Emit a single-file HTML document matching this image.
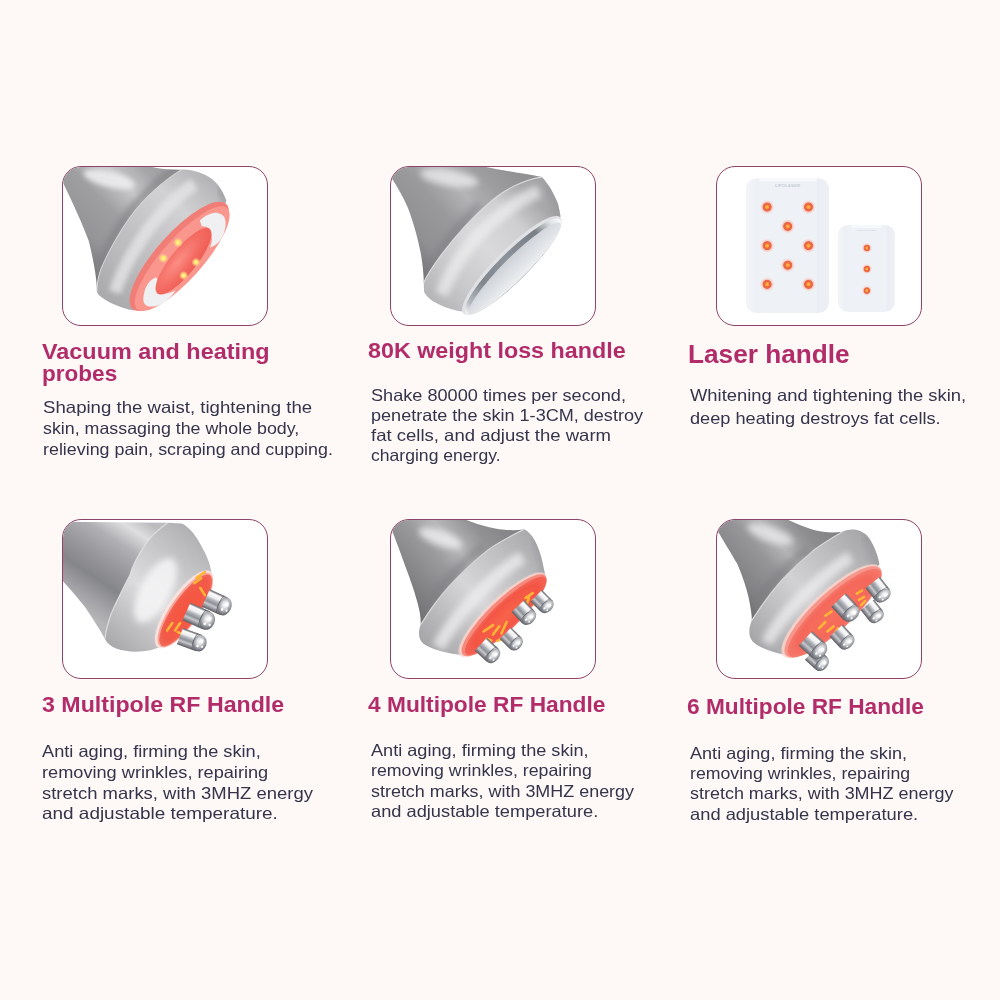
<!DOCTYPE html>
<html lang="en"><head><meta charset="utf-8"><title>Handles</title>
<style>
html,body{margin:0;padding:0}
body{width:1000px;height:1000px;background:#fef8f7;position:relative;overflow:hidden;font-family:"Liberation Sans",sans-serif}
.box{position:absolute;box-sizing:border-box;border:1px solid #8d4468;border-radius:19px;background:#fff;overflow:hidden}
.box svg{position:absolute;display:block}
.ln{position:absolute;display:block;white-space:nowrap;line-height:24px;transform-origin:0 50%}
.h{font-weight:700;color:#b12c69}
.b{font-weight:400;color:#34354b}
</style></head><body>

<div class="box" style="left:62px;top:166px;width:206px;height:160px">
<svg viewBox="0 0 1000 781" width="210" height="164" style="left:-3px;top:-3px"><defs>
<linearGradient id="a1cone" gradientUnits="userSpaceOnUse" x1="60" y1="420" x2="520" y2="-40">
<stop offset="0" stop-color="#7c7c7f"/><stop offset=".18" stop-color="#959598"/><stop offset=".42" stop-color="#9f9fa2"/><stop offset=".62" stop-color="#c8c8ca"/><stop offset=".8" stop-color="#a6a6a9"/><stop offset="1" stop-color="#98989b"/>
</linearGradient>
<linearGradient id="a1col" gradientUnits="userSpaceOnUse" x1="200" y1="640" x2="740" y2="60">
<stop offset="0" stop-color="#a9a9ac"/><stop offset=".25" stop-color="#b9b9bc"/><stop offset=".5" stop-color="#c6c6c8"/><stop offset=".72" stop-color="#d2d2d4"/><stop offset="1" stop-color="#b0b0b3"/>
</linearGradient>
<radialGradient id="a1hole" cx=".45" cy=".35" r=".7">
<stop offset="0" stop-color="#fb8d84"/><stop offset=".6" stop-color="#f36a61"/><stop offset="1" stop-color="#ee5b52"/>
</radialGradient>
<radialGradient id="a1led"><stop offset="0" stop-color="#fff9b8"/><stop offset=".4" stop-color="#ffe466"/><stop offset=".6" stop-color="#ffd27a" stop-opacity=".8"/><stop offset="1" stop-color="#ffc0a0" stop-opacity="0"/></radialGradient>
<filter id="a1b" x="-20%" y="-20%" width="140%" height="140%"><feGaussianBlur stdDeviation="3"/></filter>
<filter id="a1b2" x="-20%" y="-20%" width="140%" height="140%"><feGaussianBlur stdDeviation="12"/></filter>
<clipPath id="a1cc"><path d="M0,0 L380,0 C430,14 480,24 530,26 L578,27 C500,75 400,160 336,250 C270,340 215,450 195,500 C180,540 176,580 176,609 C176,560 165,480 137,367 C110,290 50,160 0,60 Z"/></clipPath><clipPath id="a1cl"><path d="M578,27 C620,22 690,45 722,70 C760,100 780,140 792,175 L700,420 L352,698 C300,690 230,660 200,636 C185,625 178,615 176,609 C176,580 180,540 195,500 C215,450 270,340 336,250 C400,160 500,75 578,27 Z"/></clipPath>
</defs>
<path d="M0,0 L380,0 C430,14 480,24 530,26 L578,27 C500,75 400,160 336,250 C270,340 215,450 195,500 C180,540 176,580 176,609 C176,560 165,480 137,367 C110,290 50,160 0,60 Z" fill="url(#a1cone)"/>
<path d="M578,27 C620,22 690,45 722,70 C760,100 780,140 792,175 L700,420 L352,698 C300,690 230,660 200,636 C185,625 178,615 176,609 C176,580 180,540 195,500 C215,450 270,340 336,250 C400,160 500,75 578,27 Z" fill="url(#a1col)"/>
<g clip-path="url(#a1cc)">
<path d="M560,20 C490,65 390,150 326,240 C260,330 205,440 185,490" fill="none" stroke="#7f7f83" stroke-width="46" opacity=".55" filter="url(#a1b2)"/>
<ellipse cx="235" cy="72" rx="125" ry="38" fill="#ececee" opacity=".9" filter="url(#a1b2)" transform="rotate(14 235 72)"/>
</g>
<g clip-path="url(#a1cl)">
<path d="M640,95 C560,150 470,240 400,340 C340,430 290,520 262,610" fill="none" stroke="#e4e4e6" stroke-width="60" opacity=".8" filter="url(#a1b2)"/>
<path d="M760,110 C790,150 800,180 800,200" fill="none" stroke="#9a9a9d" stroke-width="50" opacity=".6" filter="url(#a1b2)"/>
</g>
<path d="M578,27 C500,75 400,160 336,250 C270,340 215,450 195,500 C180,540 176,580 176,609" fill="none" stroke="#d8d8da" stroke-width="5" opacity=".85"/>
<g transform="translate(568,440) rotate(-48.4)"><ellipse rx="335" ry="108" fill="#f17e76"/></g>
<g transform="translate(582,451) rotate(-48.4)"><ellipse rx="322" ry="97" fill="#f9978e"/></g>
<path d="M666,269 C680,255 695,245 706,242 C725,232 745,230 753,234 C772,238 782,248 785,258 C790,275 790,295 785,312 C780,335 772,352 761,367 C748,383 732,393 714,398 C722,380 726,360 722,343 C720,328 718,318 714,308 C700,300 690,297 675,297 Z" fill="#f0f0f3"/>
<path d="M457,539 C445,545 435,552 425,562 C412,578 405,593 402,609 C397,628 396,642 398,656 C402,670 412,677 425,679 C440,680 458,676 472,671 C490,664 505,652 519,640 C532,628 542,615 550,601 C535,610 520,615 503,617 C490,620 480,620 472,617 C465,610 461,598 461,585 C461,573 464,563 468,554 Z" fill="#f0f0f3"/>
<g transform="translate(588,463) rotate(-51)">
<ellipse cx="0" cy="0" rx="198" ry="61" fill="url(#a1hole)"/>
</g>
<g>
<circle cx="562" cy="374" r="24" fill="url(#a1led)"/>
<circle cx="492" cy="449" r="24" fill="url(#a1led)"/>
<circle cx="648" cy="468" r="22" fill="url(#a1led)"/>
<circle cx="589" cy="531" r="22" fill="url(#a1led)"/>
</g>
</svg>
</div>
<div class="card"><span class="ln h" style="left:42.4px;top:340.25px;font-size:21.5px;transform:scaleX(1.0886)">Vacuum and heating</span><span class="ln h" style="left:42.4px;top:361.55px;font-size:21.5px;transform:scaleX(1.0491)">probes</span><span class="ln b" style="left:42.5px;top:395.28px;font-size:16.5px;transform:scaleX(1.1283)">Shaping the waist, tightening the</span><span class="ln b" style="left:42.5px;top:415.88px;font-size:16.5px;transform:scaleX(1.0803)">skin, massaging the whole body,</span><span class="ln b" style="left:42.5px;top:436.68px;font-size:16.5px;transform:scaleX(1.0823)">relieving pain, scraping and cupping.</span></div>
<div class="box" style="left:390px;top:166px;width:206px;height:160px">
<svg viewBox="0 0 1000 781" width="210" height="164" style="left:-3px;top:-3px"><defs>
<linearGradient id="a2cone" gradientUnits="userSpaceOnUse" x1="70" y1="400" x2="560" y2="-30">
<stop offset="0" stop-color="#7a7a7e"/><stop offset=".15" stop-color="#909093"/><stop offset=".4" stop-color="#9a9a9d"/><stop offset=".6" stop-color="#b4b4b7"/><stop offset=".78" stop-color="#9e9ea1"/><stop offset="1" stop-color="#919194"/>
</linearGradient>
<linearGradient id="a2col" gradientUnits="userSpaceOnUse" x1="200" y1="650" x2="790" y2="90">
<stop offset="0" stop-color="#b4b4b7"/><stop offset=".2" stop-color="#c9c9cc"/><stop offset=".45" stop-color="#d9d9db"/><stop offset=".68" stop-color="#cfcfd1"/><stop offset=".85" stop-color="#a9a9ac"/><stop offset="1" stop-color="#a0a0a3"/>
</linearGradient>
<linearGradient id="a2disc" gradientUnits="userSpaceOnUse" x1="0" y1="-60" x2="0" y2="60">
<stop offset="0" stop-color="#cdd0d5"/><stop offset=".45" stop-color="#dcdfe3"/><stop offset="1" stop-color="#f0f1f3"/>
</linearGradient>
<linearGradient id="a2ring" gradientUnits="userSpaceOnUse" x1="-317" y1="0" x2="317" y2="0">
<stop offset="0" stop-color="#f4f5f6"/><stop offset=".08" stop-color="#b3b8bd"/><stop offset=".25" stop-color="#80868d"/><stop offset=".5" stop-color="#8d939a"/><stop offset=".8" stop-color="#787e85"/><stop offset=".93" stop-color="#dfe2e5"/><stop offset="1" stop-color="#fafafa"/>
</linearGradient>
<filter id="a2b2" x="-30%" y="-30%" width="160%" height="160%"><feGaussianBlur stdDeviation="14"/></filter>
<clipPath id="a2cc"><path d="M0,0 L400,0 C470,18 600,38 733,62 C640,75 540,130 476,190 C400,255 320,345 255,430 C215,485 185,530 170,565 C171,540 166,480 155,420 C140,350 125,290 95,210 C70,150 35,95 0,40 Z"/></clipPath>
<clipPath id="a2cl"><path d="M733,62 C762,92 790,140 810,190 L822,250 L609,498 L372,704 L333,700 C290,690 230,668 200,643 C185,630 176,620 172,610 L170,565 C185,530 215,485 255,430 C320,345 400,255 476,190 C540,130 640,75 733,62 Z"/></clipPath>
</defs>
<path d="M0,0 L400,0 C470,18 600,38 733,62 C640,75 540,130 476,190 C400,255 320,345 255,430 C215,485 185,530 170,565 C171,540 166,480 155,420 C140,350 125,290 95,210 C70,150 35,95 0,40 Z" fill="url(#a2cone)"/>
<path d="M733,62 C762,92 790,140 810,190 L822,250 L609,498 L372,704 L333,700 C290,690 230,668 200,643 C185,630 176,620 172,610 L170,565 C185,530 215,485 255,430 C320,345 400,255 476,190 C540,130 640,75 733,62 Z" fill="url(#a2col)"/>
<g clip-path="url(#a2cc)">
<path d="M440,190 C350,280 260,390 200,500" fill="none" stroke="#7d7d81" stroke-width="46" opacity=".5" filter="url(#a2b2)"/>
<ellipse cx="292" cy="66" rx="140" ry="38" fill="#e6e6e8" opacity=".85" filter="url(#a2b2)" transform="rotate(10 292 66)"/>
</g>
<g clip-path="url(#a2cl)">
<path d="M720,130 C620,170 520,245 430,340 C350,430 290,530 255,620" fill="none" stroke="#efeff0" stroke-width="62" opacity=".7" filter="url(#a2b2)"/>
<path d="M770,90 C800,150 815,210 820,250" fill="none" stroke="#98989b" stroke-width="60" opacity=".6" filter="url(#a2b2)"/>
</g>
<path d="M733,62 C640,75 540,130 476,190 C400,255 320,345 255,430 C215,485 185,530 170,565" fill="none" stroke="#dcdcde" stroke-width="6" opacity=".85"/>
<g transform="translate(590,483) rotate(-44.8)"><ellipse rx="325" ry="77" fill="#dfe1e4"/></g>
<g transform="translate(595.5,488.5) rotate(-44.8)"><ellipse rx="317" ry="68.5" fill="url(#a2ring)"/></g>
<g transform="translate(604.5,497.5) rotate(-44.8)"><ellipse rx="304" ry="54.5" fill="url(#a2disc)"/></g>
</svg>
</div>
<div class="card"><span class="ln h" style="left:367.6px;top:339.35px;font-size:21.5px;transform:scaleX(1.0835)">80K weight loss handle</span><span class="ln b" style="left:370.8px;top:383.28px;font-size:16.5px;transform:scaleX(1.0988)">Shake 80000 times per second,</span><span class="ln b" style="left:370.8px;top:403.48px;font-size:16.5px;transform:scaleX(1.0944)">penetrate the skin 1-3CM, destroy</span><span class="ln b" style="left:370.8px;top:422.88px;font-size:16.5px;transform:scaleX(1.1231)">fat cells, and adjust the warm</span><span class="ln b" style="left:370.8px;top:442.88px;font-size:16.5px;transform:scaleX(1.0650)">charging energy.</span></div>
<div class="box" style="left:716px;top:166px;width:206px;height:160px">
<svg viewBox="0 0 1000 781" width="210" height="164" style="left:-3px;top:-3px"><defs>
<linearGradient id="a3p" x1="0" y1="0" x2="1" y2="0">
<stop offset="0" stop-color="#f3f5f8"/><stop offset=".15" stop-color="#eceff4"/><stop offset=".17" stop-color="#eef1f6"/><stop offset=".84" stop-color="#eef1f6"/><stop offset=".86" stop-color="#eaedf3"/><stop offset="1" stop-color="#eef0f5"/>
</linearGradient>
<radialGradient id="a3led"><stop offset="0" stop-color="#ffb648"/><stop offset=".22" stop-color="#ffa23a"/><stop offset=".32" stop-color="#e9663c"/><stop offset=".55" stop-color="#ea6a4c"/><stop offset=".64" stop-color="#f7b8ae" stop-opacity=".75"/><stop offset="1" stop-color="#fbdcd8" stop-opacity="0"/></radialGradient>
<filter id="a3b" x="-10%" y="-10%" width="120%" height="120%"><feGaussianBlur stdDeviation="2.5"/></filter>
</defs>
<g filter="url(#a3b)">
<rect x="152" y="68" width="396" height="642" rx="50" ry="50" fill="url(#a3p)"/>
<rect x="590" y="290" width="272" height="415" rx="48" ry="48" fill="url(#a3p)"/>
<rect x="215" y="68" width="275" height="16" fill="#f7f8fb"/>
<rect x="655" y="290" width="146" height="14" fill="#f7f8fb"/>
</g>
<text x="350" y="108" font-family="'Liberation Sans',sans-serif" font-size="17" font-weight="700" text-anchor="middle" fill="#c9ced8" textLength="120" lengthAdjust="spacingAndGlyphs">LIPOLASER</text>
<text x="728" y="321" font-family="'Liberation Sans',sans-serif" font-size="11" font-weight="700" text-anchor="middle" fill="#d3d7e0" textLength="90" lengthAdjust="spacingAndGlyphs">LIPOLASER</text>
<g>
<circle cx="253" cy="205" r="36" fill="url(#a3led)"/><circle cx="450" cy="205" r="36" fill="url(#a3led)"/>
<circle cx="351" cy="297" r="36" fill="url(#a3led)"/>
<circle cx="253" cy="389" r="36" fill="url(#a3led)"/><circle cx="450" cy="389" r="36" fill="url(#a3led)"/>
<circle cx="351" cy="482" r="36" fill="url(#a3led)"/>
<circle cx="253" cy="573" r="36" fill="url(#a3led)"/><circle cx="450" cy="573" r="36" fill="url(#a3led)"/>
<circle cx="728" cy="400" r="26" fill="url(#a3led)"/><circle cx="728" cy="500" r="26" fill="url(#a3led)"/><circle cx="728" cy="603" r="26" fill="url(#a3led)"/>
</g>
</svg>
</div>
<div class="card"><span class="ln h" style="left:687.6px;top:342.16px;font-size:25.5px;transform:scaleX(1.0273)">Laser handle</span><span class="ln b" style="left:689.8px;top:382.68px;font-size:16.5px;transform:scaleX(1.1152)">Whitening and tightening the skin,</span><span class="ln b" style="left:689.8px;top:406.48px;font-size:16.5px;transform:scaleX(1.1017)">deep heating destroys fat cells.</span></div>
<div class="box" style="left:62px;top:519px;width:206px;height:160px">
<svg viewBox="0 0 1000 781" width="210" height="164" style="left:-3px;top:-3px"><defs>
<linearGradient id="a4body" gradientUnits="userSpaceOnUse" x1="380" y1="0" x2="90" y2="440">
<stop offset="0" stop-color="#bcbcc0"/><stop offset=".13" stop-color="#dedee0"/><stop offset=".3" stop-color="#b0b0b4"/><stop offset=".5" stop-color="#98989c"/><stop offset=".68" stop-color="#85868a"/><stop offset=".86" stop-color="#a3a3a7"/><stop offset="1" stop-color="#b6b6b9"/>
</linearGradient>
<linearGradient id="a4cap" gradientUnits="userSpaceOnUse" x1="240" y1="620" x2="690" y2="90">
<stop offset="0" stop-color="#a8a8ab"/><stop offset=".2" stop-color="#bebec1"/><stop offset=".45" stop-color="#dcdcde"/><stop offset=".7" stop-color="#c9c9cb"/><stop offset="1" stop-color="#aeaeb1"/>
</linearGradient>
<radialGradient id="a4red" cx=".5" cy=".5" r=".6">
<stop offset="0" stop-color="#f6553f"/><stop offset=".7" stop-color="#f25a48"/><stop offset="1" stop-color="#f4796a"/>
</radialGradient>
<linearGradient id="pr_body" x1="0" y1="0" x2="0" y2="1">
<stop offset="0" stop-color="#6a6a70"/><stop offset=".06" stop-color="#8a8a90"/><stop offset=".13" stop-color="#fbfbfc"/><stop offset=".32" stop-color="#efeff1"/><stop offset=".44" stop-color="#b4b7bc"/><stop offset=".6" stop-color="#8d9097"/><stop offset=".74" stop-color="#c6c8cc"/><stop offset=".88" stop-color="#8a8a90"/><stop offset="1" stop-color="#5a5a60"/>
</linearGradient>
<radialGradient id="pr_tip" cx=".48" cy=".4" r=".62">
<stop offset="0" stop-color="#ffffff"/><stop offset=".3" stop-color="#e2e3e6"/><stop offset=".62" stop-color="#a4a7ac"/><stop offset=".85" stop-color="#74777d"/><stop offset="1" stop-color="#5a5a60"/>
</radialGradient>
<g id="probe">
<path d="M0,-47 L118,-47 A50,48 0 0 1 118,47 L0,47 Z" fill="url(#pr_body)"/>
<ellipse cx="126" cy="0" rx="42" ry="45" fill="url(#pr_tip)"/>
<path d="M96,-47 C84,-20 84,20 96,47" stroke="#55555b" stroke-width="5" fill="none" opacity=".7"/>
<circle cx="134" cy="-14" r="11" fill="#fff"/><circle cx="120" cy="18" r="7" fill="#fff" opacity=".95"/><circle cx="148" cy="14" r="6" fill="#fff" opacity=".95"/>
</g>
<filter id="a4b2" x="-30%" y="-30%" width="160%" height="160%"><feGaussianBlur stdDeviation="14"/></filter>
<filter id="a4b1" x="-30%" y="-30%" width="160%" height="160%"><feGaussianBlur stdDeviation="3"/></filter>
</defs>
<path d="M0,22 L514,27 C476,52 430,95 405,133 C370,185 345,235 333,276 C300,340 265,410 243,462 C228,505 218,545 214,581 C195,545 160,490 119,429 C85,385 45,340 0,290 Z" fill="url(#a4body)"/>
<path d="M514,27 L581,31 C610,45 640,80 657,110 C690,165 712,215 716,240 L722,268 L600,440 L485,612 C440,645 330,650 270,628 C240,615 222,598 214,581 C218,545 228,505 243,462 C265,410 300,340 333,276 C345,235 370,185 405,133 C430,95 476,52 514,27 Z" fill="url(#a4cap)"/>
<path d="M514,27 C476,52 430,95 405,133 C370,185 345,235 333,276 C300,340 265,410 243,462 C228,505 218,545 214,581" fill="none" stroke="#dedee0" stroke-width="6" opacity=".9"/>
<ellipse cx="455" cy="350" rx="170" ry="72" fill="#f6f6f7" opacity=".85" filter="url(#a4b2)" transform="rotate(-62 455 350)"/>
<g transform="translate(596,443) rotate(-55.3)"><ellipse cx="0" cy="-6" rx="220" ry="76" fill="#fbe3df" opacity=".95" filter="url(#a4b1)"/><ellipse rx="210" ry="68" fill="#f7a79c"/><ellipse cx="0" cy="3" rx="203" ry="61" fill="url(#a4red)"/></g>
<g filter="url(#a4b1)" stroke="#ffb534" stroke-width="12" stroke-linecap="round" fill="none">
<path d="M650,290 L690,262"/><path d="M640,315 L672,292"/><path d="M668,338 L690,372"/>
<path d="M510,540 L535,505"/><path d="M548,540 L572,505"/><path d="M560,548 L590,560"/>
</g>
<use href="#probe" transform="translate(695,386) rotate(24.5) scale(.77,.98)"/>
<use href="#probe" transform="translate(602,450) rotate(24) scale(.86,.98)"/>
<use href="#probe" transform="translate(571,567) rotate(20) scale(.79,.88)"/>
</svg>
</div>
<div class="card"><span class="ln h" style="left:42.2px;top:692.75px;font-size:21.5px;transform:scaleX(1.0785)">3 Multipole RF Handle</span><span class="ln b" style="left:42.2px;top:739.28px;font-size:16.5px;transform:scaleX(1.1045)">Anti aging, firming the skin,</span><span class="ln b" style="left:42.2px;top:760.08px;font-size:16.5px;transform:scaleX(1.1012)">removing wrinkles, repairing</span><span class="ln b" style="left:42.2px;top:780.88px;font-size:16.5px;transform:scaleX(1.1195)">stretch marks, with 3MHZ energy</span><span class="ln b" style="left:42.2px;top:801.08px;font-size:16.5px;transform:scaleX(1.1476)">and adjustable temperature.</span></div>
<div class="box" style="left:390px;top:519px;width:206px;height:160px">
<svg viewBox="0 0 1000 781" width="210" height="164" style="left:-3px;top:-3px"><defs>
<linearGradient id="a5neck" gradientUnits="userSpaceOnUse" x1="60" y1="400" x2="540" y2="-20">
<stop offset="0" stop-color="#6e6e71"/><stop offset=".18" stop-color="#838386"/><stop offset=".42" stop-color="#9a9a9d"/><stop offset=".58" stop-color="#b8b8ba"/><stop offset=".78" stop-color="#919194"/><stop offset="1" stop-color="#828285"/>
</linearGradient>
<linearGradient id="a5col" gradientUnits="userSpaceOnUse" x1="170" y1="620" x2="740" y2="100">
<stop offset="0" stop-color="#a4a4a7"/><stop offset=".22" stop-color="#bcbcbf"/><stop offset=".45" stop-color="#d6d6d8"/><stop offset=".7" stop-color="#c2c2c5"/><stop offset="1" stop-color="#a6a6a9"/>
</linearGradient>
<filter id="a5b2" x="-30%" y="-30%" width="160%" height="160%"><feGaussianBlur stdDeviation="14"/></filter>
<filter id="a5b1" x="-30%" y="-30%" width="160%" height="160%"><feGaussianBlur stdDeviation="3"/></filter>
<clipPath id="a5cc"><path d="M0,0 L340,0 C440,45 560,75 650,58 C575,95 520,125 476,157 C400,215 340,275 290,330 C240,385 195,450 155,514 C160,470 142,400 100,282 C70,200 35,100 5,30 Z"/></clipPath><clipPath id="a5cl"><path d="M650,58 C700,85 730,170 745,260 L752,302 L555,472 L360,658 C290,652 210,632 170,605 C145,585 142,550 155,514 C195,450 240,385 290,330 C340,275 400,215 476,157 C520,125 575,95 650,58 Z"/></clipPath>
<radialGradient id="a5red" cx=".5" cy=".5" r=".55"><stop offset="0" stop-color="#f8644a"/><stop offset=".7" stop-color="#f35545"/><stop offset="1" stop-color="#f4695b"/></radialGradient>
</defs>
<path d="M0,0 L340,0 C440,45 560,75 650,58 C575,95 520,125 476,157 C400,215 340,275 290,330 C240,385 195,450 155,514 C160,470 142,400 100,282 C70,200 35,100 5,30 Z" fill="url(#a5neck)"/>
<path d="M650,58 C700,85 730,170 745,260 L752,302 L555,472 L360,658 C290,652 210,632 170,605 C145,585 142,550 155,514 C195,450 240,385 290,330 C340,275 400,215 476,157 C520,125 575,95 650,58 Z" fill="url(#a5col)"/>
<path d="M650,58 C575,95 520,125 476,157 C400,215 340,275 290,330 C240,385 195,450 155,514" fill="none" stroke="#dadadc" stroke-width="6" opacity=".9"/>
<g clip-path="url(#a5cc)">
<path d="M455,140 C370,205 280,300 200,400" fill="none" stroke="#7d7d81" stroke-width="46" opacity=".5" filter="url(#a5b2)"/>
<ellipse cx="250" cy="100" rx="110" ry="36" fill="#ececed" opacity=".85" filter="url(#a5b2)" transform="rotate(20 250 100)"/>
</g>
<g clip-path="url(#a5cl)">
<path d="M640,190 C560,240 470,320 390,410 C320,490 270,560 240,620" fill="none" stroke="#efeff0" stroke-width="62" opacity=".75" filter="url(#a5b2)"/>
<path d="M700,90 C735,160 748,230 752,300" fill="none" stroke="#98989b" stroke-width="50" opacity=".55" filter="url(#a5b2)"/>
</g>
<g transform="translate(553,468) rotate(-43.8)"><ellipse cx="-4" cy="-8" rx="280" ry="76" fill="#fbd3cc" opacity=".9" filter="url(#a5b1)"/><ellipse rx="272" ry="72" fill="#f6897c"/><ellipse cx="4" cy="7" rx="262" ry="62" fill="url(#a5red)"/></g>
<g filter="url(#a5b1)" stroke="#ffb534" stroke-width="12" stroke-linecap="round" fill="none">
<path d="M655,385 L690,362"/><path d="M660,418 L672,380"/><path d="M690,395 L700,420"/>
<path d="M455,545 L500,515"/><path d="M500,560 L530,520"/><path d="M540,555 L565,500"/><path d="M470,580 L492,588"/><path d="M520,590 L545,580"/>
</g>
<use href="#probe" transform="translate(706.2,375.1) rotate(45) scale(0.58,0.82)"/>
<use href="#probe" transform="translate(618.7,423.8) rotate(47) scale(0.62,0.88)"/>
<use href="#probe" transform="translate(559.5,553.2) rotate(45) scale(0.58,0.82)"/>
<use href="#probe" transform="translate(442.1,606.0) rotate(43) scale(0.64,0.9)"/>
</svg>
</div>
<div class="card"><span class="ln h" style="left:367.6px;top:692.75px;font-size:21.5px;transform:scaleX(1.0572)">4 Multipole RF Handle</span><span class="ln b" style="left:370.8px;top:738.28px;font-size:16.5px;transform:scaleX(1.0984)">Anti aging, firming the skin,</span><span class="ln b" style="left:370.8px;top:758.48px;font-size:16.5px;transform:scaleX(1.0749)">removing wrinkles, repairing</span><span class="ln b" style="left:370.8px;top:778.68px;font-size:16.5px;transform:scaleX(1.0865)">stretch marks, with 3MHZ energy</span><span class="ln b" style="left:370.8px;top:799.08px;font-size:16.5px;transform:scaleX(1.1058)">and adjustable temperature.</span></div>
<div class="box" style="left:716px;top:519px;width:206px;height:160px">
<svg viewBox="0 0 1000 781" width="210" height="164" style="left:-3px;top:-3px"><defs>
<linearGradient id="a6neck" gradientUnits="userSpaceOnUse" x1="70" y1="380" x2="520" y2="-20">
<stop offset="0" stop-color="#6e6e71"/><stop offset=".18" stop-color="#838386"/><stop offset=".42" stop-color="#969699"/><stop offset=".58" stop-color="#b5b5b7"/><stop offset=".78" stop-color="#8e8e91"/><stop offset="1" stop-color="#808083"/>
</linearGradient>
<linearGradient id="a6col" gradientUnits="userSpaceOnUse" x1="190" y1="610" x2="760" y2="100">
<stop offset="0" stop-color="#a4a4a7"/><stop offset=".22" stop-color="#bcbcbf"/><stop offset=".45" stop-color="#d2d2d4"/><stop offset=".7" stop-color="#bfbfc2"/><stop offset="1" stop-color="#a4a4a7"/>
</linearGradient>
<filter id="a6b2" x="-30%" y="-30%" width="160%" height="160%"><feGaussianBlur stdDeviation="14"/></filter>
<filter id="a6b1" x="-30%" y="-30%" width="160%" height="160%"><feGaussianBlur stdDeviation="3"/></filter>
<clipPath id="a6cc"><path d="M0,0 L320,0 C380,25 430,48 476,62 C520,74 570,76 612,70 C560,100 520,125 476,157 C417,205 369,250 322,300 C277,352 239,402 205,455 L180,492 C181,465 172,420 164,380 C152,330 135,280 110,222 C90,185 50,125 0,35 Z"/></clipPath><clipPath id="a6cl"><path d="M612,70 C650,52 705,55 738,100 C765,140 782,190 788,226 L561,445 L345,657 C290,650 225,625 195,602 C165,580 160,545 180,492 L205,455 C239,402 277,352 322,300 C369,250 417,205 476,157 C520,125 560,100 612,70 Z"/></clipPath>
<radialGradient id="a6red" cx=".5" cy=".5" r=".55"><stop offset="0" stop-color="#f7705c"/><stop offset=".7" stop-color="#f4685b"/><stop offset="1" stop-color="#f67f73"/></radialGradient>
</defs>
<path d="M0,0 L320,0 C380,25 430,48 476,62 C520,74 570,76 612,70 C560,100 520,125 476,157 C417,205 369,250 322,300 C277,352 239,402 205,455 L180,492 C181,465 172,420 164,380 C152,330 135,280 110,222 C90,185 50,125 0,35 Z" fill="url(#a6neck)"/>
<path d="M612,70 C650,52 705,55 738,100 C765,140 782,190 788,226 L561,445 L345,657 C290,650 225,625 195,602 C165,580 160,545 180,492 L205,455 C239,402 277,352 322,300 C369,250 417,205 476,157 C520,125 560,100 612,70 Z" fill="url(#a6col)"/>
<path d="M612,70 C560,100 520,125 476,157 C417,205 369,250 322,300 C277,352 239,402 205,455 L180,492" fill="none" stroke="#dadadc" stroke-width="6" opacity=".9"/>
<g clip-path="url(#a6cc)">
<path d="M450,150 C370,215 285,300 210,395" fill="none" stroke="#7a7a7e" stroke-width="46" opacity=".5" filter="url(#a6b2)"/>
<ellipse cx="268" cy="82" rx="115" ry="36" fill="#e6e6e8" opacity=".85" filter="url(#a6b2)" transform="rotate(20 268 82)"/>
</g>
<g clip-path="url(#a6cl)">
<path d="M650,190 C570,240 480,320 400,400 C330,475 280,545 250,600" fill="none" stroke="#ededee" stroke-width="58" opacity=".75" filter="url(#a6b2)"/>
<path d="M720,80 C760,150 778,210 784,260" fill="none" stroke="#98989b" stroke-width="50" opacity=".55" filter="url(#a6b2)"/>
</g>
<g transform="translate(567,452) rotate(-42.9)"><ellipse cx="-4" cy="-8" rx="312" ry="94" fill="#fbd3cc" opacity=".9" filter="url(#a6b1)"/><ellipse rx="305" ry="90" fill="#f7978c"/><ellipse cx="2" cy="8" rx="296" ry="80" fill="url(#a6red)"/></g>
<g filter="url(#a6b1)" stroke="#ffb534" stroke-width="12" stroke-linecap="round" fill="none">
<path d="M680,365 L705,350"/><path d="M690,395 L715,380"/><path d="M700,420 L720,400"/>
<path d="M530,470 L560,450"/><path d="M500,530 L530,500"/><path d="M540,545 L570,520"/><path d="M575,555 L590,530"/>
</g>
<use href="#probe" transform="translate(730.0,417.8) rotate(52) scale(0.58,0.86)"/>
<use href="#probe" transform="translate(755.5,311.0) rotate(52) scale(0.64,0.93)"/>
<use href="#probe" transform="translate(581.6,541.0) rotate(47) scale(0.62,0.9)"/>
<use href="#probe" transform="translate(593.0,394.8) rotate(47) scale(0.72,1.0)"/>
<use href="#probe" transform="translate(459.7,649.9) rotate(42) scale(0.6,0.86)"/>
<use href="#probe" transform="translate(435.1,578.6) rotate(42) scale(0.72,1.0)"/>
</svg>
</div>
<div class="card"><span class="ln h" style="left:686.6px;top:695.35px;font-size:21.5px;transform:scaleX(1.0545)">6 Multipole RF Handle</span><span class="ln b" style="left:689.8px;top:740.88px;font-size:16.5px;transform:scaleX(1.0954)">Anti aging, firming the skin,</span><span class="ln b" style="left:689.8px;top:760.68px;font-size:16.5px;transform:scaleX(1.0720)">removing wrinkles, repairing</span><span class="ln b" style="left:689.8px;top:781.48px;font-size:16.5px;transform:scaleX(1.0881)">stretch marks, with 3MHZ energy</span><span class="ln b" style="left:689.8px;top:801.68px;font-size:16.5px;transform:scaleX(1.1106)">and adjustable temperature.</span></div>
</body></html>
